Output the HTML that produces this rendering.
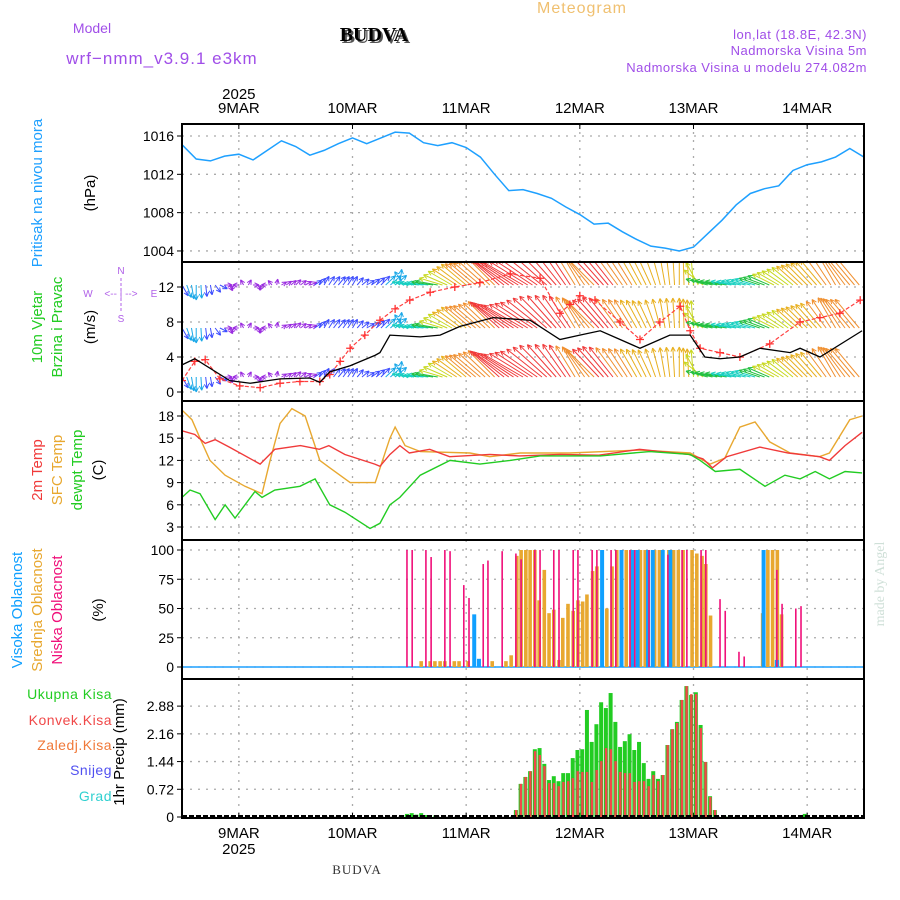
<!DOCTYPE html>
<html><head><meta charset="utf-8">
<style>
html,body{margin:0;padding:0;background:#fff;}
svg{display:block;font-family:"Liberation Sans",sans-serif;}
</style></head>
<body>
<svg id="chart" width="900" height="900" viewBox="0 0 900 900">
<rect width="900" height="900" fill="#fff"/>
<text x="92" y="33" font-size="14" fill="#a04ee8" text-anchor="middle">Model</text>
<text x="162" y="64" font-size="17" fill="#a04ee8" text-anchor="middle" letter-spacing="1">wrf−nmm_v3.9.1 e3km</text>
<text x="376" y="43" font-size="20" font-weight="bold" font-family="Liberation Serif,serif" fill="#555" text-anchor="middle">BUDVA</text>
<text x="374" y="41" font-size="20" font-weight="bold" font-family="Liberation Serif,serif" fill="#000" text-anchor="middle">BUDVA</text>
<text x="582" y="13" font-size="16" fill="#f0c070" text-anchor="middle" letter-spacing="1">Meteogram</text>
<text x="867" y="39" font-size="13" fill="#a04ee8" text-anchor="end" letter-spacing="0.5">lon,lat (18.8E, 42.3N)</text>
<text x="867" y="55" font-size="13" fill="#a04ee8" text-anchor="end" letter-spacing="0.5">Nadmorska Visina 5m</text>
<text x="867" y="72" font-size="13" fill="#a04ee8" text-anchor="end" letter-spacing="0.5">Nadmorska Visina u modelu 274.082m</text>
<text x="880" y="580" font-size="14" fill="#cfe0d8" font-family="Liberation Serif,serif" transform="rotate(-90 884 580)" text-anchor="middle">made by Angel</text>
<text x="357" y="874" font-size="13" font-family="Liberation Serif,serif" fill="#333" text-anchor="middle" letter-spacing="1">BUDVA</text>
<g id="g"></g>
</svg>
<script>
// ---- data ----
const dayLabels=["9MAR","10MAR","11MAR","12MAR","13MAR","14MAR"];
const dayHours=[12,36,60,84,108,132];
const presH=[0,3,6,9,12,15,18,21,24,27,30,33,36,39,42,45,48,51,54,57,60,63,66,69,72,75,78,81,84,87,90,93,96,99,102,105,108,111,114,117,120,123,126,129,132,135,138,141,144];
const presV=[1015.1,1013.6,1013.4,1013.9,1014.1,1013.5,1014.5,1015.5,1014.9,1014.0,1014.5,1015.2,1015.8,1015.2,1015.8,1016.4,1016.3,1015.3,1015.0,1015.3,1014.8,1013.8,1012.0,1010.3,1010.4,1010.0,1009.5,1008.6,1007.8,1006.8,1006.9,1006.0,1005.2,1004.5,1004.3,1004.0,1004.4,1005.8,1007.2,1008.8,1010.0,1010.5,1010.8,1012.4,1013.0,1013.3,1013.8,1014.7,1013.8];
const presTicks=[1004,1008,1012,1016];
const windTicks=[0,4,8,12];
const spdH=[0,2.7,10.1,14.4,20.7,27,29.1,31.2,35.5,40.8,41.8,43.9,50.3,54.5,58.7,65.7,73.5,79.8,84,88.3,92.5,96.7,103,107.3,110.4,113.6,117.8,122,128.4,130.5,134.7,143.6];
const spdV=[3.1,3.8,1.3,1,1.5,1.6,1.1,2.3,3,4.2,4.5,6.5,6.3,6.5,7.5,8.5,8.2,6,6.5,7,6,5,6.5,6.5,4,3.8,4,5,4.5,5,4,7];
const gustH=[0,2.7,4.9,8,12.2,16.5,20.7,24.9,29.1,31.2,33.4,35.5,38.6,41.8,45,48.1,52.4,57.6,62.9,69.3,75.6,79.8,81.9,84,87.2,92.5,96.7,100.9,105.2,107.3,109.4,113.6,117.8,124.1,130.5,134.7,138.9,143.2];
const gustV=[1.3,3.5,3.7,1.5,0.7,0.5,1,1.2,1.2,2,3.5,5,6.5,8.2,9.5,10.5,11.4,12,12.5,13.5,13,9,10,11,10.5,8,6,8,9.8,7,5,4.5,4,5.5,8,8.5,9,10.5];
const arrH=[0,3,6,9,12,15,18,21,24,27,30,33,36,39,42,45,48,51,54,57,60,63,66,69,72,75,78,81,84,87,90,93,96,99,102,105,108,111,114,117,120,123,126,129,132,135,138,141,144];
const arrDir=[300,270,280,0,180,0,180,30,45,20,60,50,60,30,45,40,170,175,170,150,140,140,135,145,150,145,135,125,120,135,130,125,120,115,100,90,95,165,170,170,165,160,150,140,135,130,120,130,130];
const arrSpd=[2.5,3,2,1.5,1,1,1.2,1.2,1.5,1.5,2,2.2,2,1.8,2.5,3,3.5,4,4.5,5.5,6.5,7,7.5,8.5,9,9,9,8,7,7.5,8,7,6.5,6,6,6,5.5,4.5,4.5,4,4,4.5,5,5.5,6,6.5,7,7.5,7.5];
const tempTicks=[3,6,9,12,15,18];
const t2H=[0,2.7,4.9,7,10,16.5,19.6,25,29,31,34.4,40.7,41.8,43.9,46,48,52.3,56.5,65,71.3,79.8,88,96.6,107,110,112,115,122,128,134.6,136.7,140,143.6];
const t2V=[16,15.5,14.3,14.8,13.8,11.5,13.5,14,13.5,14,12.8,11.5,11.2,12.8,14,13,13.5,12.5,12.8,12.6,12.8,12.7,13.5,12.8,12.2,11,12.5,13.8,13,12.5,12,14,15.8];
const sfcH=[0,2.1,3.8,5.9,9.1,13.3,16.9,18.6,20.7,23.2,26,29.1,31.2,35.5,40.8,43.9,45,47.1,50.3,60.8,65,71.4,81.9,96.7,107.3,111.5,114.6,117.8,121,124.1,128.4,134.6,136.7,141,143.6];
const sfcV=[18.8,17.5,15,12,10,8.5,7.5,12,17,19,18,12,11,9,9,15,16.5,14,13.2,13,12.5,13,13,13.4,13,11.5,12.3,16.5,17.2,14.5,13,12.5,13,17.5,18];
const dewH=[0,1.7,3.8,7,9.1,11.2,15.4,16.9,19.6,24.9,28.1,31.2,34.4,39.7,41.8,43.9,46,50.3,56.6,62.9,69.3,75.6,88.3,98.8,107.3,109.4,112.6,117.8,123.1,127.3,130.5,133.7,136.7,140,143.6];
const dewV=[7,8,7.5,4,6,4.2,7.8,7,8,8.5,9.5,6,5,2.8,3.5,6,7,10,12,11.5,12,12.6,12.6,13.2,12.8,12,10.5,10.8,8.5,10,9.5,10.5,9.5,10.5,10.3];
const cloudTicks=[0,25,50,75,100];
const lowH=[47.5,48.6,51.5,52.6,55.5,56.6,59.5,60.6,63.6,64.6,67.6,70.5,71.6,74.5,75.6,78.5,79.6,82.6,83.6,86.6,87.6,90.6,91.6,94.6,95.6,98.6,102.6,105.6,106.6,109.6,110.6,113.6,114.7,117.6,118.7,125.6,126.7,129.6,130.7];
const lowV=[100,100,100,94,100,99,70,59,88,91,99,97,92,100,100,100,100,100,100,100,100,100,100,100,100,100,96,100,100,100,100,58,48,13,9,83,54,50,52];
const midH=[50.5,52.4,53.4,54.5,55.5,57.5,58.5,60.4,65.5,68.4,69.5,70.7,71.6,72.6,73.5,74.5,75.4,76.5,77.5,78.5,79.6,80.4,81.5,82.6,83.6,84.6,85.5,86.7,87.6,89.7,90.8,91.8,93.8,94.8,96.8,97.8,99.8,100.8,102.8,103.8,104.8,105.8,107.7,108.7,109.8,110.6,111.6,122.6,123.7,124.7,125.7,126.6];
const midV=[5,5,5,5,5,5,5,5,5,5,10,95,100,100,100,100,57,83,46,49,6,42,54,48,57,56,62,82,86,50,86,100,100,100,100,100,100,100,100,100,100,100,100,97,95,88,44,46,100,100,100,45];
const highH=[61.7,62.7,88.7,92.8,95.2,96.2,98.4,99.4,101.5,103.1,122.8,125.6];
const highV=[45,7,100,100,100,100,100,100,100,100,100,6];
const precTicks=[0,0.72,1.44,2.16,2.88];
const precH=[46.5,47.5,48.5,49.5,50.5,51.5,53.5,70.5,71.5,72.5,73.5,74.5,75.5,76.5,77.5,78.5,79.5,80.5,81.5,82.5,83.5,84.5,85.5,86.5,87.5,88.5,89.5,90.5,91.5,92.5,93.5,94.5,95.5,96.5,97.5,98.5,99.5,100.5,101.5,102.5,103.5,104.5,105.5,106.5,107.5,108.5,109.5,110.5,111.5,112.5,114.5,131.5];
const precTot=[0.05,0.08,0.1,0.06,0.1,0.05,0.04,0.18,0.86,1.04,1.19,1.76,1.79,1.38,0.96,1.06,0.93,1.14,1.14,1.53,1.74,1.76,2.78,1.95,2.41,2.98,2.83,3.22,2.47,1.82,1.97,2.15,1.74,1.95,1.40,0.99,1.19,0.99,1.09,1.87,2.28,2.47,3.04,3.40,3.17,3.24,2.39,1.43,0.54,0.18,0.03,0.08];
const precConv=[0,0,0,0,0,0,0,0.18,0.86,1.04,1.19,1.71,1.61,1.32,0.88,0.88,0.80,0.91,0.93,1.01,1.19,1.17,1.17,0.91,1.22,1.45,1.79,1.76,1.45,1.17,1.14,1.14,0.91,0.93,0.93,0.80,1.09,0.93,1.09,1.87,2.28,2.44,3.04,3.40,3.19,3.19,2.31,1.43,0.52,0.18,0.03,0];

// ---- axes ----
const X0=182,X1=864;
const X=h=>X0+h*(X1-X0)/144;
const yP=v=>136+(1016-v)*9.58;
const yW=v=>392-v*8.75;
const yT=v=>416+(18-v)*7.4;
const yC=v=>667-v*1.17;
const yR=v=>817-v*38.5;
const panels=[[124,262],[262,401],[401,540],[540,679],[679,818]];
const NS="http://www.w3.org/2000/svg";
const G=document.getElementById('g');
function el(tag,attrs,parent){const e=document.createElementNS(NS,tag);for(const k in attrs)e.setAttribute(k,attrs[k]);(parent||G).appendChild(e);return e;}
function txt(x,y,s,attrs,parent){const e=el('text',Object.assign({x:x,y:y},attrs),parent);e.textContent=s;return e;}

const defs=el('defs',{});
panels.forEach((p,i)=>{const c=el('clipPath',{id:'clip'+i},defs);el('rect',{x:X0,y:p[0],width:X1-X0,height:p[1]-p[0]},c);});

const grid=el('g',{stroke:'#aaa','stroke-width':1.3,'stroke-dasharray':'2,6'});


dayHours.forEach(h=>{el('line',{x1:X(h),x2:X(h),y1:124,y2:818},grid);});
const hgrid=[[presTicks,yP],[windTicks,yW],[tempTicks,yT],[cloudTicks,yC],[precTicks,yR]];
hgrid.forEach(([t,f])=>t.forEach(v=>{const y=f(v);el('line',{x1:X0,x2:X1,y1:y,y2:y},grid);}));

const tickG=el('g',{'font-size':14,fill:'#000','text-anchor':'end'});


hgrid.forEach(([t,f],i)=>t.forEach(v=>{
  let s=(i==4&&v==0)?'0':String(v);
  const y=f(v);
  const tl=txt(174,y+5,s,{},tickG);
  
  
  el('line',{x1:X0-5,x2:X0,y1:y,y2:y,stroke:'#000'},tickG);
}));
const xl=el('g',{'font-size':15,fill:'#000','text-anchor':'middle'});


dayLabels.forEach((d,i)=>{
  const x=X(dayHours[i]);
  const t1=txt(x,113,d,{},xl);
  
  
  const t2=txt(x,838,d,{},xl);
  
  
  el('line',{x1:x,x2:x,y1:124,y2:129,stroke:'#000'},xl);
  el('line',{x1:x,x2:x,y1:813,y2:818,stroke:'#000'},xl);
});
txt(X(12),99,'2025',{},xl);
txt(X(12),854,'2025',{},xl);

const pres=el('polyline',{points:presH.map((h,i)=>X(h)+','+yP(presV[i])).join(' '),fill:'none',stroke:'#1ea0ff','stroke-width':1.5,'clip-path':'url(#clip0)'});



function spdColor(s){if(s<1.6)return '#9a2be0';if(s<2.6)return '#3c4cff';if(s<3.4)return '#1aa8e8';if(s<4.2)return '#18d0c0';if(s<4.8)return '#22c040';if(s<5.6)return '#c8d820';if(s<6.6)return '#e8b020';if(s<7.6)return '#f09030';return '#f03a3a';}
const windG=el('g',{'clip-path':'url(#clip1)','stroke-width':1,fill:'none'});


[285,328,377].forEach(base=>{
  for(let k=0;k<arrH.length-1;k++){
    for(let sub=0;sub<3;sub++){
      const h=arrH[k]+sub;
      const s=arrSpd[k]+(arrSpd[k+1]-arrSpd[k])*sub/3;
      const d=(arrDir[k]+((((arrDir[k+1]-arrDir[k])%360)+540)%360-180)*sub/3)*Math.PI/180;
      const L=Math.max(6,s*5);
      const x1=X(h),y1=base,x2=x1+L*Math.cos(d),y2=y1-L*Math.sin(d);
      const c=spdColor(s);
      const a=el('path',{d:`M${x1},${y1}L${x2},${y2}M${x2},${y2}L${x2-5*Math.cos(d-0.45)},${y2+5*Math.sin(d-0.45)}M${x2},${y2}L${x2-5*Math.cos(d+0.45)},${y2+5*Math.sin(d+0.45)}`,stroke:c},windG);
      
      
    }
  }
});
const gust=el('polyline',{points:gustH.map((h,i)=>X(h)+','+yW(gustV[i])).join(' '),fill:'none',stroke:'#ff4040','stroke-width':1.2,'stroke-dasharray':'4,2','clip-path':'url(#clip1)'});


gustH.forEach((h,i)=>{const x=X(h),y=yW(gustV[i]);
  const m=el('path',{d:`M${x-4},${y}H${x+4}M${x},${y-4}V${y+4}`,stroke:'#ff3030','stroke-width':1.3,'clip-path':'url(#clip1)'});
  
  });
const spd=el('polyline',{points:spdH.map((h,i)=>X(h)+','+yW(spdV[i])).join(' '),fill:'none',stroke:'#000','stroke-width':1.3,'clip-path':'url(#clip1)'});



[[sfcH,sfcV,'#e8a830','sfc-temp-line'],[t2H,t2V,'#f03a3a','temp-2m-line'],[dewH,dewV,'#22cc22','dewpoint-line']].forEach(([H,V,c,n])=>{
  const l=el('polyline',{points:H.map((h,i)=>X(h)+','+yT(V[i])).join(' '),fill:'none',stroke:c,'stroke-width':1.4,'clip-path':'url(#clip2)'});
  
  
});

const base=el('line',{x1:X0,x2:X1,y1:667,y2:667,stroke:'#1ea0ff','stroke-width':1.5});


midH.forEach((h,i)=>{const b=el('rect',{x:X(h)-1.8,y:yC(midV[i]),width:3.6,height:667-yC(midV[i]),fill:'#e8a830'});
  
  });
highH.forEach((h,i)=>{const b=el('rect',{x:X(h)-2,y:yC(highV[i]),width:4,height:667-yC(highV[i]),fill:'#10a0ff'});
  
  });
lowH.forEach((h,i)=>{const b=el('rect',{x:X(h)-0.8,y:yC(lowV[i]),width:1.6,height:667-yC(lowV[i]),fill:'#f0107a'});
  
  });

precH.forEach((h,i)=>{const x=X(h);
  const b=el('rect',{x:x-2,y:yR(precTot[i]),width:4,height:817-yR(precTot[i]),fill:'#22cc22'});
  
  
  if(precConv[i]>0){const r=el('rect',{x:x-1,y:yR(precConv[i]),width:2.4,height:817-yR(precConv[i]),fill:'#f04848'});
  
  }
});
const pb=el('line',{x1:X0,x2:X1,y1:816,y2:816,stroke:'#000','stroke-width':2,'stroke-dasharray':'5,2'});



panels.forEach(p=>{const r=el('rect',{x:X0,y:p[0],width:X1-X0,height:p[1]-p[0],fill:'none',stroke:'#000','stroke-width':2});
  
  });

function vlab(x,cy,s,c,n,fs){const t=txt(x,cy,s,{fill:c,'font-size':fs||15,'text-anchor':'middle',transform:`rotate(-90 ${x} ${cy})`});
  
  }
vlab(42,193,'Pritisak na nivou mora','#1ea0ff','pressure-axis-title');
vlab(95,193,'(hPa)','#000','pressure-unit');
vlab(42,327,'10m Vjetar','#22cc22','wind-axis-title');
vlab(62,327,'Brzina i Pravac','#22cc22','wind-axis-subtitle');
vlab(95,327,'(m/s)','#000','wind-unit');
vlab(42,470,'2m Temp','#f03a3a','temp2m-axis-title');
vlab(62,470,'SFC Temp','#e8a830','sfc-temp-axis-title');
vlab(82,470,'dewpt Temp','#22cc22','dewpt-axis-title');
vlab(103,470,'(C)','#000','temp-unit');
vlab(22,610,'Visoka Oblacnost','#10a0ff','high-cloud-axis-title');
vlab(42,610,'Srednja Oblacnost','#e8a830','mid-cloud-axis-title');
vlab(62,610,'Niska Oblacnost','#f0107a','low-cloud-axis-title');
vlab(103,610,'(%)','#000','cloud-unit');
vlab(124,752,'1hr Precip (mm)','#000','precip-axis-title');
[['Ukupna  Kisa','#22cc22',699],['Konvek.Kisa','#f04848',725],['Zaledj.Kisa','#f07838',750],['Snijeg','#5050f0',775],['Grad','#30d0d0',801]].forEach(([s,c,y])=>{
  const t=txt(112,y,s,{fill:c,'font-size':14,'text-anchor':'end','letter-spacing':'0.5'});
  
  });
const comp=el('g',{fill:'#b060e8','font-size':10,'text-anchor':'middle'});


txt(88,297,'W',{},comp);txt(154,297,'E',{},comp);
txt(121,297,'<-- | -->',{},comp);
txt(121,274,'N',{},comp);txt(121,322,'S',{},comp);
el('line',{x1:121,x2:121,y1:278,y2:312,stroke:'#b060e8','stroke-dasharray':'3,2'},comp);
</script>
</body></html>
